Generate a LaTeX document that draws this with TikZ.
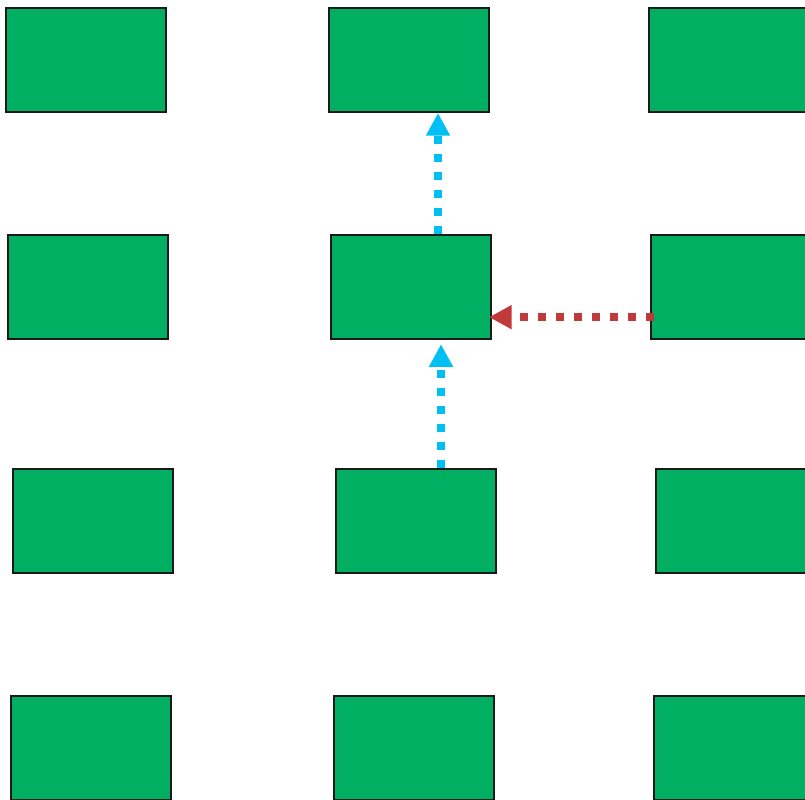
\documentclass[tikz,border=0pt]{standalone}
\usetikzlibrary{arrows.meta}
\definecolor{boxgreen}{HTML}{00AF61}
\definecolor{flowblue}{HTML}{00BFF3}
\definecolor{flowred}{HTML}{C0393B}
\begin{document}
\begin{tikzpicture}[
  x=0.75pt, y=-0.75pt,
  cell/.style={rectangle, draw=black!90, line width=1.5pt, fill=boxgreen,
    minimum width=120pt, minimum height=78pt, inner sep=0pt},
  flow/.style={line width=6pt, dash pattern=on 6pt off 7.5pt,
    -{Triangle[length=17pt,width=17pt]}},
  upflow/.style={flow, draw=flowblue},
  leftflow/.style={flow, draw=flowred}
]
  \useasboundingbox (0,0) rectangle (805,799);
  \clip (0,0) rectangle (805,799);
  % Mřížka bloků
  \node[cell] (r1c1) at (86, 60) {};
  \node[cell] (r1c2) at (409, 60) {};
  \node[cell] (r1c3) at (729, 60) {};
  \node[cell] (r2c1) at (88, 286.5) {};
  \node[cell] (r2c2) at (411, 286.5) {};
  \node[cell] (r2c3) at (731, 286.5) {};
  \node[cell] (r3c1) at (93, 520.5) {};
  \node[cell] (r3c2) at (416, 520.5) {};
  \node[cell] (r3c3) at (736, 520.5) {};
  \node[cell] (r4c1) at (91, 748) {};
  \node[cell] (r4c2) at (414, 748) {};
  \node[cell] (r4c3) at (734, 748) {};
  % Šipky
  \draw[upflow] ([xshift=20.25pt]r2c2.north) -- ([xshift=21.75pt]r1c2.south);
  \draw[upflow] ([xshift=18.75pt]r3c2.north) -- ([xshift=22.5pt,yshift=-3.5pt]r2c2.south);
  \draw[leftflow] ([xshift=3pt,yshift=-23pt]r2c3.west) -- ([xshift=-2.25pt,yshift=-23pt]r2c2.east);
\end{tikzpicture}
\end{document}
